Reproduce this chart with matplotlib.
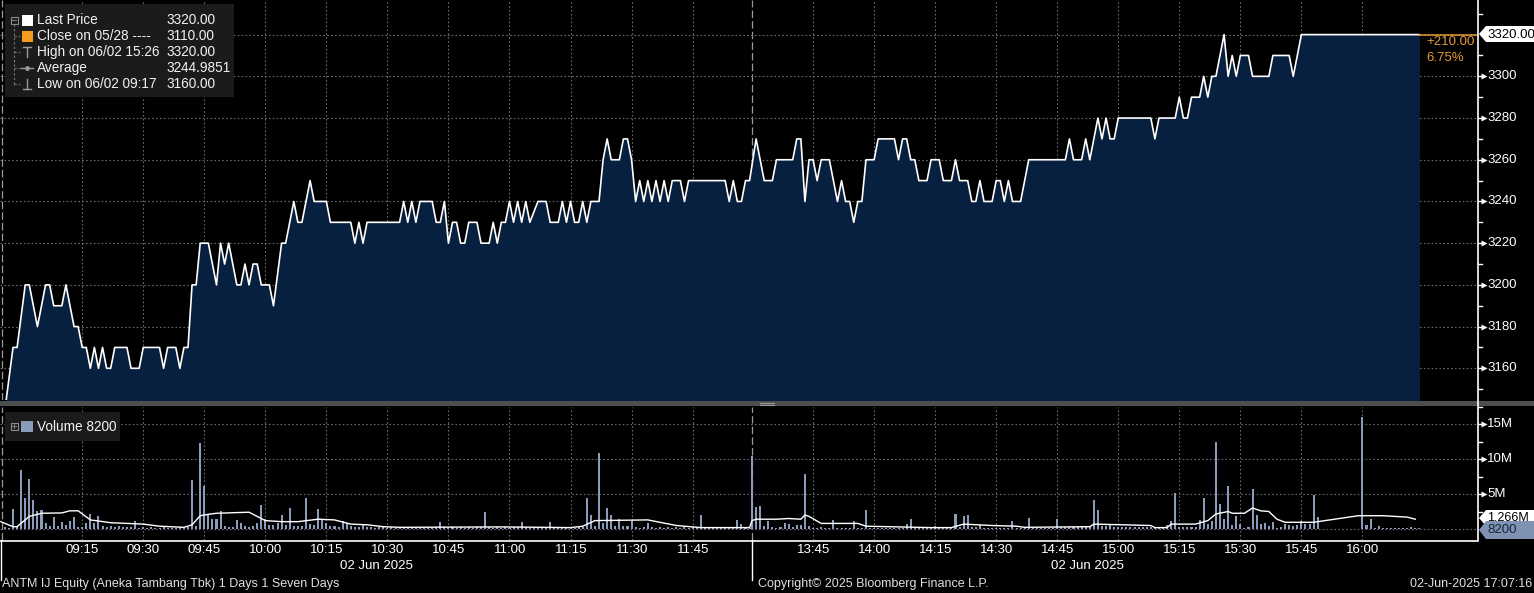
import numpy as np
import matplotlib.pyplot as plt
import matplotlib.transforms as mtransforms
from matplotlib.patches import Rectangle, Polygon
from matplotlib.lines import Line2D

plt.rcParams['font.family'] = ['Liberation Sans', 'DejaVu Sans']

# ---------------- data ----------------
price_times = [
    "08:56", "08:58", "08:59", "09:01", "09:02", "09:04", "09:06", "09:07", "09:08", "09:10",
    "09:11", "09:13", "09:14", "09:15", "09:16", "09:17", "09:18", "09:19", "09:20", "09:21",
    "09:22", "09:23", "09:26", "09:27", "09:29", "09:30", "09:34", "09:35", "09:36", "09:38",
    "09:39", "09:40", "09:41", "09:42", "09:43", "09:44", "09:46", "09:48", "09:49", "09:50",
    "09:51", "09:53", "09:54", "09:55", "09:56", "09:57", "09:58", "09:59", "10:01", "10:02",
    "10:04", "10:05", "10:07", "10:08", "10:09", "10:11", "10:12", "10:15", "10:16", "10:21",
    "10:22", "10:23", "10:24", "10:25", "10:33", "10:34", "10:35", "10:36", "10:37", "10:38",
    "10:41", "10:42", "10:43", "10:44", "10:45", "10:46", "10:47", "10:48", "10:49", "10:50",
    "10:52", "10:53", "10:55", "10:56", "10:57", "10:58", "10:59", "11:00", "11:01", "11:02",
    "11:03", "11:04", "11:05", "11:07", "11:09", "11:10", "11:12", "11:13", "11:14", "11:15",
    "11:16", "11:17", "11:18", "11:19", "11:20", "11:22", "11:23", "11:24", "11:25", "11:27",
    "11:28", "11:29", "11:30", "11:31", "11:32", "11:33", "11:34", "11:35", "11:36", "11:37",
    "11:38", "11:39", "11:40", "11:42", "11:43", "11:44", "11:53", "11:54", "11:55", "11:56",
    "11:57", "11:58", "11:59",
    "13:31", "13:33", "13:35", "13:36", "13:40", "13:41", "13:42", "13:43", "13:44", "13:45",
    "13:46", "13:47", "13:49", "13:51", "13:52", "13:53", "13:54", "13:55", "13:56", "13:57",
    "13:58", "14:00", "14:01", "14:05", "14:06", "14:07", "14:08", "14:09", "14:10", "14:11",
    "14:13", "14:14", "14:16", "14:17", "14:19", "14:20", "14:21", "14:23", "14:24", "14:25",
    "14:26", "14:27", "14:29", "14:30", "14:31", "14:32", "14:33", "14:34", "14:36", "14:38",
    "14:47", "14:48", "14:49", "14:51", "14:52", "14:53", "14:54", "14:55", "14:56", "14:57",
    "14:58", "14:59", "15:00", "15:08", "15:09", "15:10", "15:14", "15:15", "15:16", "15:17",
    "15:18", "15:20", "15:21", "15:22", "15:23", "15:24", "15:26", "15:27", "15:28", "15:29",
    "15:30", "15:32", "15:33", "15:37", "15:38", "15:42", "15:43", "15:45", "16:14",
]
price_values = [
    3140, 3170, 3170, 3200, 3200, 3180, 3200, 3200, 3190, 3190,
    3200, 3180, 3180, 3170, 3170, 3160, 3170, 3160, 3170, 3160,
    3160, 3170, 3170, 3160, 3160, 3170, 3170, 3160, 3170, 3170,
    3160, 3170, 3170, 3200, 3200, 3220, 3220, 3200, 3220, 3210,
    3220, 3200, 3200, 3210, 3200, 3210, 3210, 3200, 3200, 3190,
    3220, 3220, 3240, 3230, 3230, 3250, 3240, 3240, 3230, 3230,
    3220, 3230, 3220, 3230, 3230, 3240, 3230, 3240, 3230, 3240,
    3240, 3230, 3230, 3240, 3220, 3230, 3230, 3220, 3220, 3230,
    3230, 3220, 3220, 3230, 3220, 3230, 3230, 3240, 3230, 3240,
    3230, 3240, 3230, 3240, 3240, 3230, 3230, 3240, 3230, 3240,
    3230, 3230, 3240, 3230, 3240, 3240, 3260, 3270, 3260, 3260,
    3270, 3270, 3260, 3240, 3250, 3240, 3250, 3240, 3250, 3240,
    3250, 3240, 3250, 3250, 3240, 3250, 3250, 3240, 3250, 3240,
    3240, 3250, 3250,
    3270, 3250, 3250, 3260, 3260, 3270, 3270, 3240, 3260, 3260,
    3250, 3260, 3260, 3240, 3250, 3240, 3240, 3230, 3240, 3240,
    3260, 3260, 3270, 3270, 3260, 3270, 3270, 3260, 3260, 3250,
    3250, 3260, 3260, 3250, 3250, 3260, 3250, 3250, 3240, 3240,
    3250, 3240, 3240, 3250, 3250, 3240, 3250, 3240, 3240, 3260,
    3260, 3270, 3260, 3260, 3270, 3260, 3270, 3280, 3270, 3280,
    3270, 3270, 3280, 3280, 3270, 3280, 3280, 3290, 3280, 3280,
    3290, 3290, 3300, 3290, 3300, 3300, 3320, 3300, 3310, 3300,
    3310, 3310, 3300, 3300, 3310, 3310, 3300, 3320, 3320,
]

# volume in millions, one bar per minute
vol_am_start = "08:56"
vol_am = [
    0.3, 0.2, 2.9, 0.3,
    8.5, 4.4, 7.2, 4.2, 2.6, 2.7, 0.8, 0.4, 1.7, 0.4, 1.0, 0.6, 1.1, 1.7, 0.3,
    0.3, 0.8, 2.1, 0.8, 1.9, 0.4, 0.3, 0.5, 0.3, 0.4, 0.3, 0.3, 0.3, 1.1, 0.2,
    0.3, 0.2, 0.3, 0.2, 0.2, 0.3, 0.2, 0.2, 0.2, 0.3, 0.2, 0.3, 7.0, 0.5, 12.3,
    6.2, 2.0, 1.4, 1.5, 2.6, 0.4, 0.3, 0.3, 1.3, 0.8, 0.4, 0.3, 0.4, 0.8, 3.5,
    1.4, 0.6, 0.6, 0.8, 2.0, 0.6, 3.0, 0.4, 0.4, 0.4, 4.4, 0.7, 0.6, 2.9, 1.5,
    0.8, 0.4, 0.4, 0.3, 1.2, 0.8, 0.4, 0.3, 0.3, 0.6, 0.3, 0.3, 0.2, 0.3, 0.3,
    0.2, 0.3, 0.2, 0.3, 0.2, 0.3, 0.2, 0.2, 0.3, 0.2, 0.3, 0.2, 0.3, 1.0, 0.3,
    0.2, 0.3, 0.2, 0.3, 0.2, 0.3, 0.2, 0.3, 0.3, 2.5, 0.3, 0.2, 0.3, 0.2, 0.3,
    0.2, 0.3, 0.3, 1.0, 0.3, 0.2, 0.3, 0.2, 0.3, 0.2, 1.0, 0.3, 0.2, 0.3, 0.2,
    0.3, 0.2, 0.3, 0.3, 4.4, 2.0, 0.5, 10.9, 0.8, 3.0, 2.0, 0.5, 1.5, 0.4, 0.5,
    1.2, 0.3, 0.2, 0.3, 0.8, 0.3, 0.2, 0.3, 0.2, 0.3, 0.2, 0.3, 0.2, 0.3, 0.2,
    0.3, 0.2, 2.0, 0.3, 0.2, 0.3, 0.2, 0.3, 0.2, 0.3, 0.2, 1.3, 0.7, 0.3, 0.2,
]
vol_pm_start = "13:30"
vol_pm = [
    10.5, 3.2, 3.3, 0.4, 1.1, 0.3, 0.2, 0.3, 0.9, 0.7, 0.3, 0.6, 0.6, 7.9, 0.4,
    0.2, 0.2, 0.3, 0.2, 0.2, 1.3, 0.2, 0.2, 0.2, 0.2, 1.1, 0.2, 0.2, 2.7, 0.2,
    0.2, 0.2, 0.2, 0.2, 0.2, 0.2, 0.2, 0.2, 0.7, 1.4, 0.2, 0.2, 0.2, 0.2, 0.2,
    0.4, 0.2, 0.2, 0.2, 0.2, 2.2, 0.3, 1.8, 2.0, 0.3, 0.3, 0.6, 0.2, 0.2, 0.2,
    0.2, 0.2, 0.2, 0.2, 1.1, 0.2, 0.2, 0.2, 1.6, 0.2, 0.2, 0.2, 0.2, 0.2, 0.2,
    1.4, 0.3, 0.3, 0.3, 0.3, 0.3, 0.3, 0.3, 0.3, 4.1, 2.7, 0.4, 0.4, 0.6, 0.3,
    0.3, 0.3, 0.3, 0.3, 0.3, 0.3, 0.3, 0.3, 0.3, 0.3, 0.3, 0.3, 0.6, 1.2, 5.1,
    0.3, 0.3, 0.3, 0.3, 0.3, 1.3, 4.4, 0.7, 1.2, 12.4, 3.6, 1.5, 6.2, 0.6, 1.9,
    0.7, 0.2, 0.3, 5.7, 2.0, 0.7, 0.8, 0.4, 1.0, 0.2, 0.3, 0.7, 0.6, 0.4, 0.6,
    1.1, 0.7, 0.7, 4.9, 1.7, 0, 0, 0, 0, 0, 0, 0, 0, 0, 0,
    16.0, 0.6, 1.5, 0.2, 0.4, 0.1, 0.1, 0.1, 0.1, 0.1, 0.1, 0.1, 0.3, 0.1, 0.1,
]

vol_avg_times = [
    "08:55", "08:58", "08:59", "09:02", "09:05", "09:10", "09:12", "09:14", "09:17", "09:22",
    "09:30", "09:34", "09:40", "09:42", "09:44", "09:46", "09:48", "09:56", "10:00", "10:04",
    "10:08", "10:13", "10:17", "10:21", "10:25", "10:29", "10:33", "10:58", "11:15", "11:18",
    "11:21", "11:34", "11:41", "11:47", "11:55", "11:59",
    "13:30", "13:31", "13:36", "13:39", "13:42", "13:43", "13:44", "13:47", "13:56", "13:58",
    "14:14", "14:19", "14:22", "14:29", "14:35", "14:37", "14:53", "14:54", "15:08", "15:09",
    "15:12", "15:13", "15:19", "15:22", "15:24", "15:27", "15:28", "15:31", "15:33", "15:35",
    "15:37", "15:39", "15:41", "15:48", "15:59", "16:05", "16:11", "16:13",
]
vol_avg_values = [
    1.05, 0.33, 0.33, 1.8, 2.25, 2.3, 2.6, 2.6, 1.3, 0.9,
    0.7, 0.4, 0.24, 0.6, 1.9, 2.1, 2.25, 2.4, 1.2, 1.05,
    1.05, 1.4, 1.3, 0.7, 0.6, 0.33, 0.24, 0.3, 0.2, 0.4,
    1.2, 1.3, 0.5, 0.2, 0.2, 0.2,
    1.2, 1.4, 1.4, 1.5, 1.4, 2.0, 1.8, 0.8, 0.8, 0.4,
    0.2, 0.2, 0.7, 0.5, 0.4, 0.24, 0.33, 0.7, 0.5, 0.2,
    0.2, 0.7, 0.7, 1.2, 2.15, 2.5, 2.25, 2.25, 3.0, 2.6,
    2.5, 1.4, 0.96, 0.96, 1.9, 1.9, 1.7, 1.4,
]

time_ticks = ["09:15", "09:30", "09:45", "10:00", "10:15", "10:30", "10:45", "11:00",
              "11:15", "11:30", "11:45", "13:45", "14:00", "14:15", "14:30", "14:45",
              "15:00", "15:15", "15:30", "15:45", "16:00"]
price_ticks = [3160, 3180, 3200, 3220, 3240, 3260, 3280, 3300]
vol_ticks = [5, 10, 15]

legend_labels = ["Last Price", "Close on 05/28 ----", "High on 06/02 15:26", "Average", "Low on 06/02 09:17"]
legend_values = ["3320.00", "3110.00", "3320.00", "3244.9851", "3160.00"]

last_price = 3320.00
change_text = ["+210.00", "6.75%"]

# ---------------- helpers ----------------
W, H = 1534, 593
BG = 'black'
FILL = '#08203f'
BAR = '#8b9bba'
GRID = '#6a6a6a'
ORANGE = '#e39a36'


def tpos(s):
    h, m = map(int, s.split(":"))
    t = h * 60 + m
    if t >= 13 * 60 + 30:
        return 179.6 + t - (13 * 60 + 30)
    return t - 9 * 60


fig = plt.figure(figsize=(W / 100, H / 100), dpi=100, facecolor=BG)
px = mtransforms.Affine2D().scale(1 / W, -1 / H).translate(0, 1) + fig.transFigure


def rect(x0, y0, x1, y1):
    return [x0 / W, 1 - y1 / H, (x1 - x0) / W, (y1 - y0) / H]


ax_p = fig.add_axes(rect(0, 0, 1478, 400))
ax_v = fig.add_axes(rect(0, 407, 1478, 540))
XLIM = (-5.2, 358)

for ax in (ax_p, ax_v):
    ax.set_facecolor(BG)
    ax.set_xlim(*XLIM)
    for sp in ax.spines.values():
        sp.set_visible(False)
    ax.set_xticks([])
    ax.set_yticks([])
    for t in time_ticks:
        ax.axvline(tpos(t), color=GRID, lw=0.8, dashes=(1.5, 2), zorder=1)
    ax.axvline(-4.7, color='#9a9a9a', lw=0.9, dashes=(6, 2.5), zorder=1)
    ax.axvline(179.5, color='#9a9a9a', lw=0.9, dashes=(6, 2.5), zorder=1)

# ---- price panel ----
ax_p.set_ylim(3144.8, 3336.6)
for p in price_ticks + [3320]:
    ax_p.axhline(p, color=GRID, lw=0.8, dashes=(1.5, 2), zorder=1)
xp = np.array([tpos(t) for t in price_times])
yp = np.array(price_values)
ax_p.fill_between(xp, yp, 3100, color=FILL, lw=0, zorder=2)
ax_p.plot(xp, yp, color='white', lw=1.2, zorder=3)
ax_p.plot([xp[-1], XLIM[1]], [last_price, last_price], color=ORANGE, lw=1.1, zorder=3)

# ---- volume panel ----
ax_v.set_ylim(-1.57, 17.43)
for v in [0] + vol_ticks:
    ax_v.axhline(v, color=GRID, lw=0.8, dashes=(1.5, 2), zorder=1)
xa = tpos(vol_am_start) + np.arange(len(vol_am))
xb = tpos(vol_pm_start) + np.arange(len(vol_pm))
ax_v.bar(np.concatenate([xa, xb]), vol_am + vol_pm, width=0.5, color=BAR, zorder=2)
ax_v.plot([tpos(t) for t in vol_avg_times], vol_avg_values, color='white', lw=1.0, zorder=3)

# ---- right axes ----
bt_p = mtransforms.blended_transform_factory(ax_p.transAxes, ax_p.transData)
bt_v = mtransforms.blended_transform_factory(ax_v.transAxes, ax_v.transData)
for p in price_ticks:
    ax_p.plot([1.0, 1.0043], [p, p], color='white', lw=1, transform=bt_p, clip_on=False)
    ax_p.plot([1.0043], [p], marker='>', ms=4, color='white', mec='none', transform=bt_p, clip_on=False)
    ax_p.text(1 + 9 / 1478, p, f"{p}", transform=bt_p, color='white', fontsize=9.5,
              va='center', ha='left')
for p in range(3150, 3340, 20):
    ax_p.plot([1.0, 1.003], [p, p], color='white', lw=1, transform=bt_p, clip_on=False)
for v in vol_ticks:
    ax_v.plot([1.0, 1.0043], [v, v], color='white', lw=1, transform=bt_v, clip_on=False)
    ax_v.plot([1.0043], [v], marker='>', ms=4, color='white', mec='none', transform=bt_v, clip_on=False)
    ax_v.text(1 + 9 / 1478, v, f"{v}M", transform=bt_v, color='white', fontsize=9.5,
              va='center', ha='left')
for v in [2.5, 7.5, 12.5, 17.5]:
    ax_v.plot([1.0, 1.003], [v, v], color='white', lw=1, transform=bt_v, clip_on=False)

# frame lines
fig.add_artist(Line2D([1478, 1478], [0, 540], transform=px, color='white', lw=1.2))
fig.add_artist(Line2D([0, 1478], [540.5, 540.5], transform=px, color='white', lw=1.2))
fig.add_artist(Line2D([0.5, 0.5], [540, 580], transform=px, color='white', lw=1))
fig.add_artist(Line2D([752, 752], [540, 580], transform=px, color='white', lw=1))
fig.add_artist(Rectangle((0, 401), W, 5, transform=px, color='#4e4e4e', lw=0))
fig.add_artist(Line2D([760, 774], [403, 403], transform=px, color='#9a9a9a', lw=0.8))
fig.add_artist(Line2D([760, 774], [405, 405], transform=px, color='#9a9a9a', lw=0.8))

# price box at right
yc = 34
fig.add_artist(Polygon([(1479, yc), (1486, yc - 8), (1534, yc - 8), (1534, yc + 8), (1486, yc + 8)],
                       closed=True, transform=px, facecolor='white', edgecolor='none', zorder=6))
fig.text(1487, yc + 0.5, f"{last_price:.2f}", transform=px, color='black', fontsize=9.5,
         va='center', ha='left', zorder=7)
fig.text(1426, 42, change_text[0], transform=px, color=ORANGE, fontsize=9.5, va='center', zorder=7)
fig.text(1426, 58, change_text[1], transform=px, color=ORANGE, fontsize=9.5, va='center', zorder=7)

# volume boxes at right
yc = 518
fig.add_artist(Polygon([(1479, yc), (1486, yc - 8), (1534, yc - 8), (1534, yc + 8), (1486, yc + 8)],
                       closed=True, transform=px, facecolor='white', edgecolor='none', zorder=6))
fig.text(1487, yc, "1.266M", transform=px, color='black', fontsize=9, va='center', zorder=7)
yc = 530
fig.add_artist(Polygon([(1479, yc), (1486, yc - 9), (1534, yc - 9), (1534, yc + 9), (1486, yc + 9)],
                       closed=True, transform=px, facecolor='#7f92b2', edgecolor='none', zorder=8))
fig.text(1487, yc, "8200", transform=px, color='#15243a', fontsize=9.5, va='center', zorder=9)

# ---- price legend ----
fig.add_artist(Rectangle((5, 4), 229, 93, transform=px, facecolor='#1b1b1b', edgecolor='none', zorder=10))
rows = [20.5, 36, 52, 68, 84]
tree = dict(transform=px, color='#7a7a7a', lw=0.8, zorder=11)
fig.add_artist(Rectangle((10.5, 16.5), 7, 7, transform=px, facecolor='none', edgecolor='#8a8a8a', lw=0.8, zorder=11))
fig.add_artist(Line2D([12, 16], [20, 20], **tree))
fig.add_artist(Line2D([14, 14], [24, rows[-1]], ls=(0, (2, 2)), **tree))
for r in rows[1:]:
    fig.add_artist(Line2D([14, 20], [r, r], ls=(0, (2, 2)), **tree))
fig.add_artist(Rectangle((21.5, rows[0] - 5.5), 11, 11, transform=px, facecolor='white', zorder=11))
fig.add_artist(Rectangle((21.5, rows[1] - 5.5), 11, 11, transform=px, facecolor='#f39c1f', zorder=11))
icon = dict(transform=px, color='#9a9a9a', lw=1, zorder=11)
fig.add_artist(Line2D([23, 31], [rows[2] - 5, rows[2] - 5], **icon))
fig.add_artist(Line2D([27, 27], [rows[2] - 5, rows[2] + 5], **icon))
fig.add_artist(Line2D([21, 33], [rows[3], rows[3]], **icon))
fig.add_artist(Line2D([27], [rows[3]], marker='o', ms=2.5, **icon))
fig.add_artist(Line2D([27, 27], [rows[4] - 5, rows[4] + 5], **icon))
fig.add_artist(Line2D([23, 31], [rows[4] + 5, rows[4] + 5], **icon))
for r, lab, val in zip(rows, legend_labels, legend_values):
    fig.text(37, r, lab, transform=px, color='#f2f2f2', fontsize=9.8, va='center', zorder=12)
    fig.text(166.5, r, val, transform=px, color='#f2f2f2', fontsize=9.8, va='center', zorder=12)

# ---- volume legend ----
fig.add_artist(Rectangle((5, 412), 115, 29, transform=px, facecolor='#1b1b1b', edgecolor='none', zorder=10))
fig.add_artist(Rectangle((10.5, 422.5), 7, 7, transform=px, facecolor='none', edgecolor='#8a8a8a', lw=0.8, zorder=11))
fig.add_artist(Line2D([12, 16], [426, 426], **tree))
fig.add_artist(Line2D([14, 14], [424, 428], **tree))
fig.add_artist(Rectangle((21, 421), 11.5, 11, transform=px, facecolor=BAR, zorder=11))
fig.text(37, 427, "Volume 8200", transform=px, color='#f2f2f2', fontsize=9.8, va='center', zorder=12)

# ---- time axis labels ----
for t in time_ticks:
    x = 21.3 + 4.07 * tpos(t)
    fig.text(x, 550, t, transform=px, color='white', fontsize=9.5, va='center', ha='center')
fig.text(376, 566, "02 Jun 2025", transform=px, color='white', fontsize=9.5, va='center', ha='center')
fig.text(1087, 566, "02 Jun 2025", transform=px, color='white', fontsize=9.5, va='center', ha='center')

# ---- footer ----
foot = dict(transform=px, color='#e0e0e0', fontsize=9, va='center')
fig.text(2, 584, "ANTM IJ Equity (Aneka Tambang Tbk) 1 Days 1 Seven Days", ha='left', **foot)
fig.text(758, 584, "Copyright\u00a9 2025 Bloomberg Finance L.P.", ha='left', **foot)
fig.text(1532, 584, "02-Jun-2025 17:07:16", ha='right', **foot)

fig.savefig("out.png", dpi=100, facecolor=BG)
